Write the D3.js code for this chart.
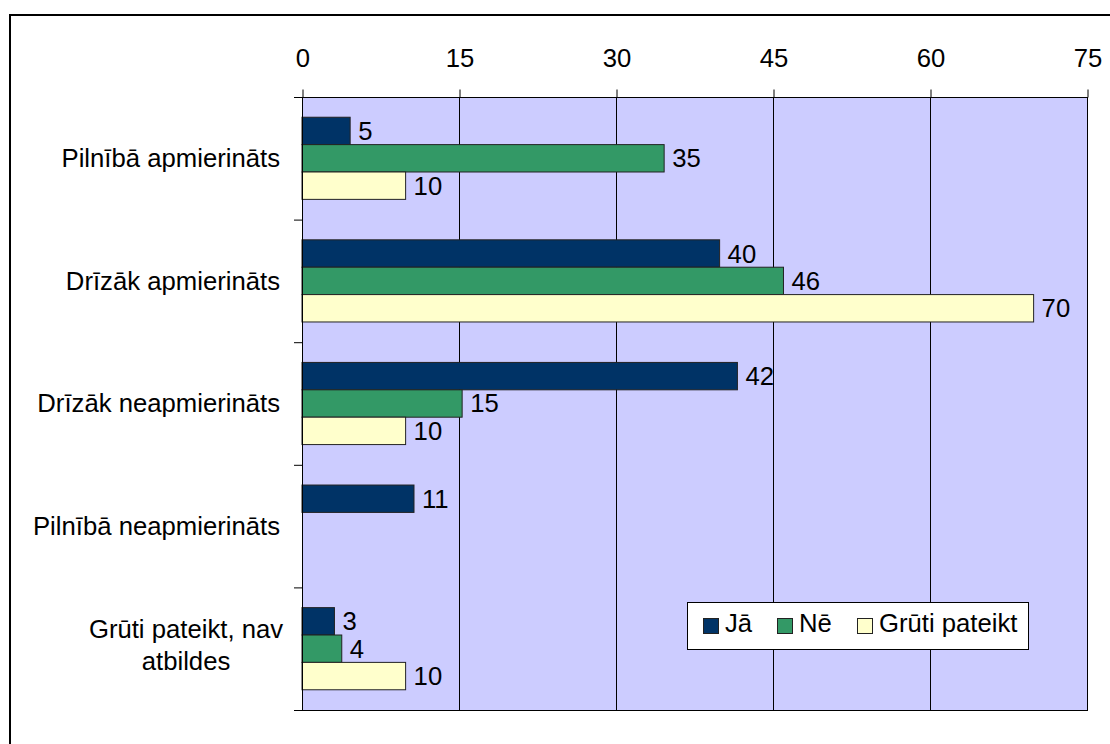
<!DOCTYPE html>
<html>
<head>
<meta charset="utf-8">
<script src="https://cdn.jsdelivr.net/npm/d3@7"></script>
<style>
  html, body { margin: 0; padding: 0; background: #fff; }
  svg { display: block; font-family: "Liberation Sans", Arial, sans-serif; }
</style>
</head>
<body>
<svg id="chart" width="1110" height="744"></svg>
<script>
// ---- Data ----
const categories = ["Pilnībā apmierināts", "Drīzāk apmierināts", "Drīzāk neapmierināts", "Pilnībā neapmierināts", "Grūti pateikt, nav atbildes"];
const seriesNames = ["Jā", "Nē", "Grūti pateikt"];
const jaValues = [4.6, 39.9, 41.6, 10.7, 3.1];
const neValues = [34.6, 46.0, 15.3, 0, 3.8];
const grutiValues = [9.9, 69.9, 9.9, 0, 9.9];
const tickValues = [0, 15, 30, 45, 60, 75];
const seriesColors = ["#003366", "#339966", "#FFFFCC"];

(function () {
const seriesValues = [jaValues, neValues, grutiValues];
const rows = [];
categories.forEach((c, i) => {
  seriesNames.forEach((s, j) => rows.push({ cat: c, series: s, value: seriesValues[j][i], color: seriesColors[j] }));
});

const FONT = 25.7;
const svg = d3.select("#chart");

// outer border (cropped at right/bottom)
svg.append("rect").attr("x", 10).attr("y", 15).attr("width", 1200).attr("height", 800)
  .attr("fill", "#fff").attr("stroke", "#000").attr("stroke-width", 2);

const pLeft = 302, pRight = 1087, pTop = 97, pBottom = 710;
const x = d3.scaleLinear().domain([0, 75]).range([pLeft, pRight]);
const y = d3.scaleBand().domain(categories).range([pTop, pBottom]).padding(0);
const bw = y.bandwidth();
const ys = d3.scaleBand().domain(seriesNames).range([bw * 0.165, bw * 0.835]).padding(0);

// plot area
svg.append("rect").attr("x", pLeft).attr("y", pTop).attr("width", pRight - pLeft).attr("height", pBottom - pTop)
  .attr("fill", "#CCCCFF");

// gridlines
svg.append("g").selectAll("line").data(tickValues.slice(1, -1)).join("line")
  .attr("x1", d => x(d) + 0.5).attr("x2", d => x(d) + 0.5).attr("y1", pTop).attr("y2", pBottom)
  .attr("stroke", "#000").attr("stroke-width", 1);

// bars
svg.append("g").selectAll("rect").data(rows.filter(d => d.value > 0)).join("rect")
  .attr("x", x(0))
  .attr("y", d => y(d.cat) + ys(d.series))
  .attr("width", d => x(d.value) - x(0))
  .attr("height", ys.bandwidth())
  .attr("fill", d => d.color)
  .attr("stroke", "#222").attr("stroke-width", 1);

// value labels
svg.append("g").selectAll("text").data(rows.filter(d => d.value > 0)).join("text")
  .attr("x", d => x(d.value) + 8)
  .attr("y", d => y(d.cat) + ys(d.series) + ys.bandwidth() / 2 + FONT * 0.35)
  .attr("font-size", FONT).attr("fill", "#000")
  .text(d => Math.round(d.value));

// plot border
svg.append("rect").attr("x", pLeft + 0.5).attr("y", pTop + 0.5).attr("width", pRight - pLeft).attr("height", pBottom - pTop)
  .attr("fill", "none").attr("stroke", "#000").attr("stroke-width", 1);

// top axis
const axis = d3.axisTop(x).tickValues(tickValues).tickSize(8).tickPadding(23).tickFormat(d3.format("d"));
const ga = svg.append("g").attr("transform", `translate(0.5,${pTop + 0.5})`).call(axis);
ga.select(".domain").remove();
ga.selectAll("line").attr("stroke", "#000");
ga.selectAll("text").attr("font-size", FONT).attr("font-family", "Liberation Sans, Arial, sans-serif").attr("fill", "#000");

// left category boundary ticks
const bounds = categories.map(c => y(c)).concat([pBottom]);
svg.append("g").selectAll("line").data(bounds).join("line")
  .attr("x1", pLeft - 8).attr("x2", pLeft).attr("y1", d => d + 0.5).attr("y2", d => d + 0.5)
  .attr("stroke", "#000").attr("stroke-width", 1);

// category labels
const labelLines = { "Grūti pateikt, nav atbildes": ["Grūti pateikt, nav", "atbildes"] };
const gl = svg.append("g");
categories.forEach(c => {
  const cy = y(c) + bw / 2;
  const lines = labelLines[c];
  if (lines) {
    lines.forEach((ln, k) => {
      gl.append("text").attr("x", 186).attr("y", cy - 11 + k * 32)
        .attr("text-anchor", "middle").attr("font-size", FONT).text(ln);
    });
  } else {
    gl.append("text").attr("x", 280).attr("y", cy + FONT * 0.35)
      .attr("text-anchor", "end").attr("font-size", FONT).text(c);
  }
});

// legend
const lg = svg.append("g");
lg.append("rect").attr("x", 687.5).attr("y", 602.5).attr("width", 341).attr("height", 47)
  .attr("fill", "#fff").attr("stroke", "#000").attr("stroke-width", 1);
const legendX = [703, 777, 857];
seriesNames.forEach((s, j) => {
  lg.append("rect").attr("x", legendX[j] + 0.5).attr("y", 618.5).attr("width", 15).attr("height", 15)
    .attr("fill", seriesColors[j]).attr("stroke", "#222").attr("stroke-width", 1);
  lg.append("text").attr("x", legendX[j] + 22).attr("y", 632).attr("font-size", FONT).text(s);
});
})();
</script>
</body>
</html>
